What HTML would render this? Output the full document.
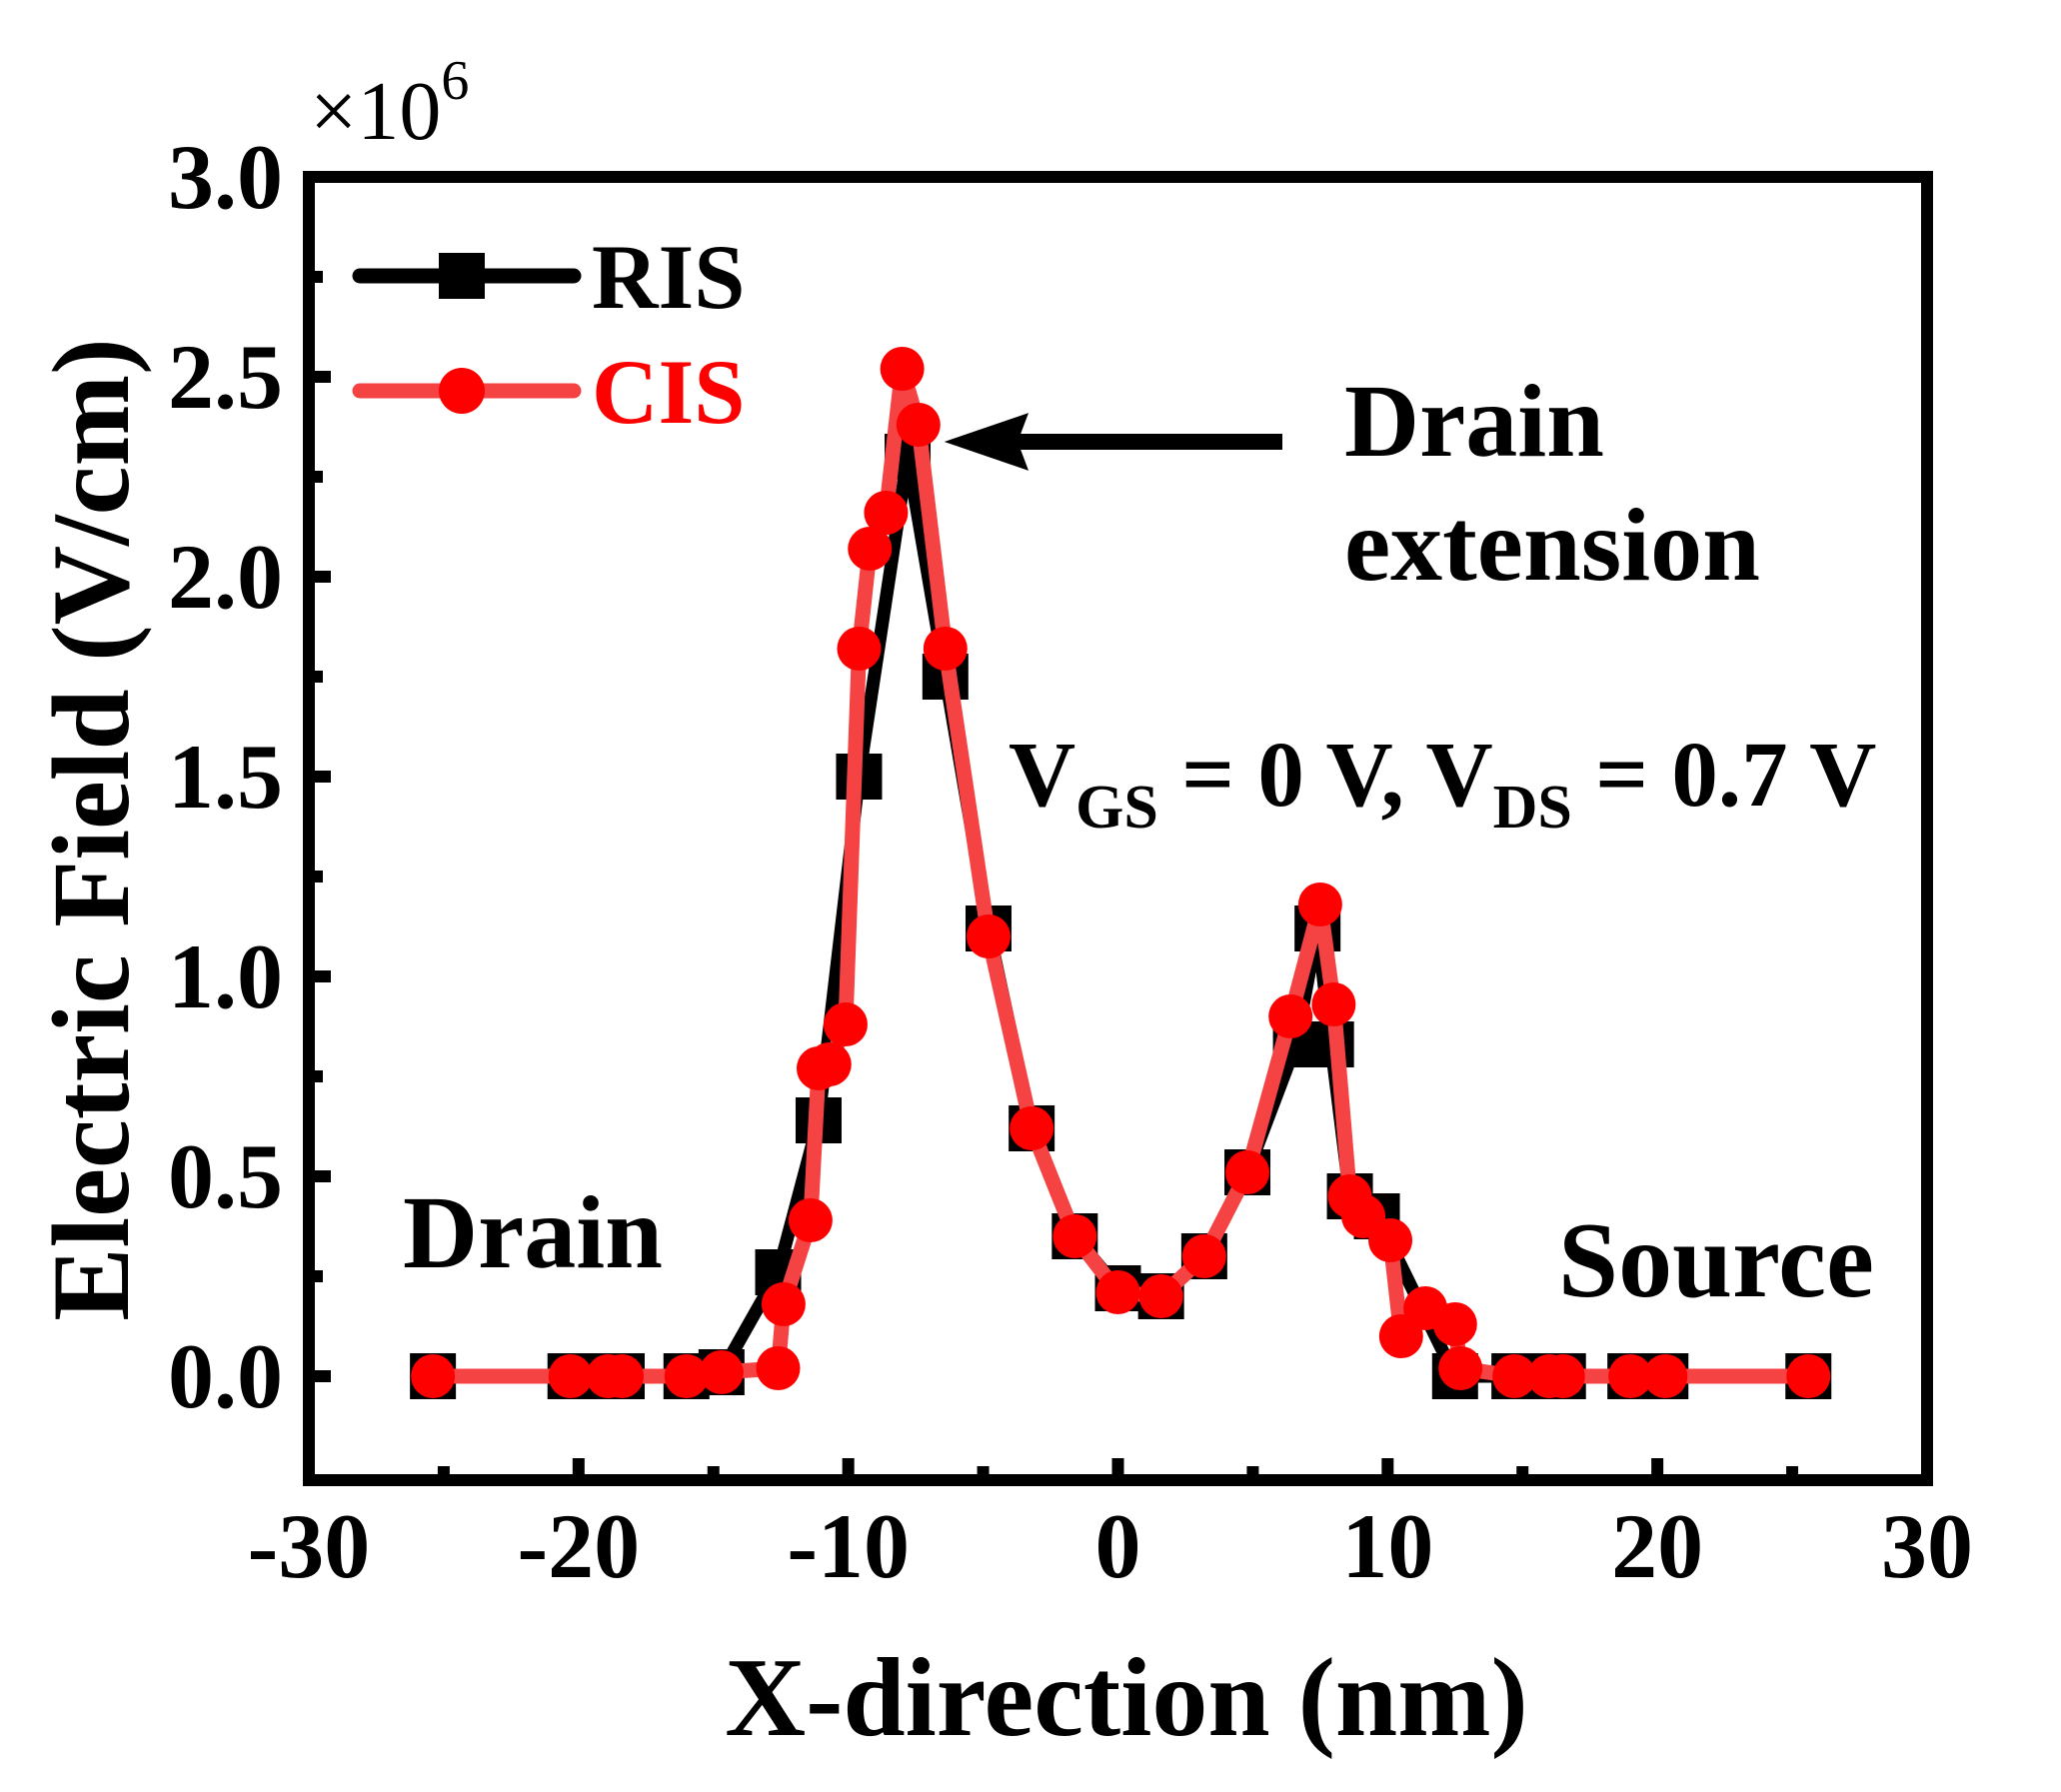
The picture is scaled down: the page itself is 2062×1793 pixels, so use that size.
<!DOCTYPE html>
<html><head><meta charset="utf-8"><style>
html,body{margin:0;padding:0;background:#fff;}
svg{display:block;font-family:"Liberation Serif",serif;font-weight:bold;}
</style></head><body>
<svg id="chart" width="2062" height="1793" viewBox="0 0 2062 1793" xmlns="http://www.w3.org/2000/svg">
<g id="ticks"></g>
<g id="series"></g>
<rect x="309" y="177" width="1619" height="1304" fill="none" stroke="#000" stroke-width="12"/>
<g id="labels" font-size="92"></g>
<text x="310" y="139" font-size="84" font-weight="normal">×10<tspan font-size="56" dy="-40">6</tspan></text>
<text x="1127" y="1736" font-size="112" text-anchor="middle">X-direction (nm)</text>
<text transform="translate(128,830) rotate(-90)" font-size="110" text-anchor="middle">Electric Field (V/cm)</text>
<g>
<line x1="360" y1="276" x2="574" y2="276" stroke="#000" stroke-width="15" stroke-linecap="round"/>
<rect x="439" y="253" width="46" height="46" fill="#000"/>
<text x="592" y="308" font-size="92">RIS</text>
<line x1="360" y1="391" x2="574" y2="391" stroke="#f54242" stroke-width="15" stroke-linecap="round"/>
<circle cx="462" cy="391" r="23" fill="#ff0000"/>
<text x="592" y="423" font-size="92" fill="#ff0000">CIS</text>
</g>
<g>
<line x1="970" y1="442" x2="1283" y2="442" stroke="#000" stroke-width="16"/>
<path d="M954 442 L1024 418 L1015 442 L1024 466 Z" fill="#000" stroke="#000" stroke-width="6" stroke-linejoin="miter"/>
</g>
<text x="1345" y="456" font-size="104">Drain</text>
<text x="1345" y="580" font-size="104">extension</text>
<text x="1009" y="806" font-size="93">V<tspan font-size="62" dy="22">GS</tspan><tspan dy="-22"> = 0 V, V</tspan><tspan font-size="62" dy="22">DS</tspan><tspan dy="-22"> = 0.7 V</tspan></text>
<text x="403" y="1268" font-size="104">Drain</text>
<text x="1559" y="1297" font-size="108">Source</text>
</svg>
<script>
const risX=[-25.4,-20.3,-18.9,-18.4,-16.0,-14.7,-12.6,-11.1,-9.6,-7.8,-6.4,-4.8,-3.2,-1.6,0,1.6,3.2,4.8,6.6,7.4,7.9,8.6,9.6,12.5,14.7,16.0,16.5,19.0,20.3,25.6];
const risY=[0,0,0,0,0,0.01,0.26,0.64,1.50,2.30,1.75,1.12,0.62,0.35,0.22,0.20,0.30,0.51,0.83,1.12,0.83,0.45,0.40,0,0,0,0,0,0,0];
const cisX=[-25.4,-20.3,-18.9,-18.4,-16.0,-14.7,-12.6,-12.4,-11.4,-11.1,-10.7,-10.1,-9.6,-9.2,-8.6,-8.0,-7.4,-6.4,-4.8,-3.2,-1.6,0,1.6,3.2,4.8,6.4,7.5,8.0,8.6,9.1,10.1,10.5,11.4,12.5,12.7,14.7,16.0,16.5,19.0,20.3,25.6];
const cisY=[0,0,0,0,0,0.01,0.02,0.18,0.39,0.77,0.78,0.88,1.82,2.07,2.16,2.52,2.38,1.82,1.10,0.62,0.35,0.21,0.20,0.30,0.51,0.90,1.18,0.93,0.45,0.40,0.34,0.10,0.17,0.13,0.02,0,0,0,0,0,0];
const xTicks=[-30,-20,-10,0,10,20,30];
const yTicks=[0.0,0.5,1.0,1.5,2.0,2.5,3.0];
const xMin=-30,xMax=30,yMin=-0.26,yMax=3.0;
const L=309,R=1928,T=177,B=1481;
function sx(v){return L+(v-xMin)/(xMax-xMin)*(R-L);}
function sy(v){return B-(v-yMin)/(yMax-yMin)*(B-T);}
const NS='http://www.w3.org/2000/svg';
function mk(tag,attrs,parent){const e=document.createElementNS(NS,tag);for(const k in attrs)e.setAttribute(k,attrs[k]);parent.appendChild(e);return e;}
const tg=document.getElementById('ticks'),lg=document.getElementById('labels'),sg=document.getElementById('series');
for(let v=-30;v<=30;v+=5){const major=v%10===0;const t=mk('line',{x1:sx(v),x2:sx(v),y1:B,y2:B-(major?22:14),stroke:'#000','stroke-width':12},tg);

}
for(let i=0;i<=12;i++){const v=i*0.25;const major=i%2===0;const t=mk('line',{x1:L,x2:L+(major?22:14),y1:sy(v),y2:sy(v),stroke:'#000','stroke-width':12},tg);

}
xTicks.forEach(v=>{const t=mk('text',{x:sx(v),y:1578,'text-anchor':'middle'},lg);t.textContent=String(v);

});
yTicks.forEach(v=>{const t=mk('text',{x:283,y:sy(v)+31,'text-anchor':'end'},lg);t.textContent=v.toFixed(1);

});
const rp=risX.map((x,i)=>sx(x)+','+sy(risY[i])).join(' ');
const rl=mk('polyline',{points:rp,fill:'none',stroke:'#000','stroke-width':13,'stroke-linejoin':'round'},sg);


risX.forEach((x,i)=>{const m=mk('rect',{x:sx(x)-23,y:sy(risY[i])-23,width:46,height:46,fill:'#000'},sg);

});
const cp=cisX.map((x,i)=>sx(x)+','+sy(cisY[i])).join(' ');
const cl=mk('polyline',{points:cp,fill:'none',stroke:'#f54242','stroke-width':15,'stroke-linejoin':'round'},sg);


cisX.forEach((x,i)=>{const m=mk('circle',{cx:sx(x),cy:sy(cisY[i]),r:22,fill:'#ff0000'},sg);

});
</script>
</body></html>
